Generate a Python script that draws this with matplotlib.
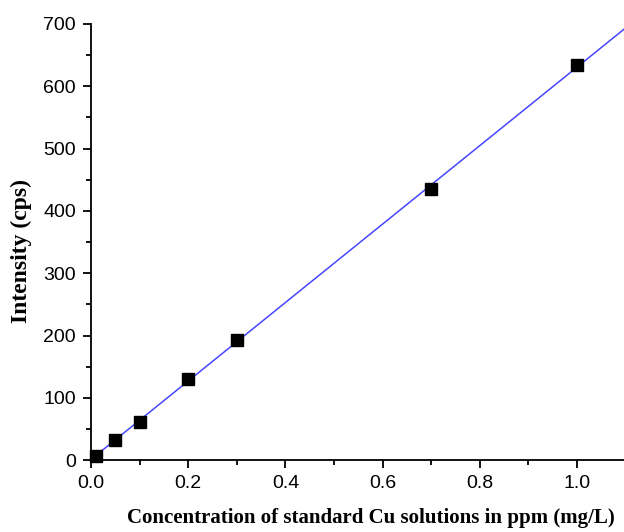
import matplotlib.pyplot as plt
import numpy as np

conc = [0.01, 0.05, 0.1, 0.2, 0.3, 0.7, 1.0]
intensity = [7, 33, 62, 130, 193, 435, 634]

fig = plt.figure(figsize=(6.24, 5.32), dpi=100)
ax = fig.add_axes([0.146, 0.135, 0.854, 0.820])

# linear fit through the standards
slope, icpt = np.polyfit(conc, intensity, 1)
xfit = np.array([0, 1.2])
ax.plot(xfit, slope * xfit + icpt, color='#4646ff', lw=1.1, zorder=2)

ax.plot(conc, intensity, 's', color='black', markersize=8, zorder=3, clip_on=False)

ax.set_xlim(0, 1.097)
ax.set_ylim(0, 700)
ax.set_xticks([0.0, 0.2, 0.4, 0.6, 0.8, 1.0])
ax.set_xticks(np.arange(0.1, 1.1, 0.2), minor=True)
ax.set_yticks(range(0, 701, 100))
ax.set_yticks(range(50, 701, 100), minor=True)

for s in ['top', 'right']:
    ax.spines[s].set_visible(False)
for s in ['left', 'bottom']:
    ax.spines[s].set_linewidth(1.3)

ax.tick_params(which='major', direction='out', length=6, width=1.3,
               labelsize=14, colors='black', pad=5)
ax.tick_params(which='minor', direction='out', length=3.5, width=1.3)
for lab in ax.get_xticklabels() + ax.get_yticklabels():
    lab.set_fontfamily('Liberation Sans')

fig.text(0.595, 0.016, 'Concentration of standard Cu solutions in ppm (mg/L)',
         ha='center', va='baseline', fontfamily='Liberation Serif',
         fontweight='bold', fontsize=15)
ax.set_ylabel('Intensity (cps)', fontfamily='Liberation Serif',
              fontweight='bold', fontsize=17)
ax.yaxis.set_label_coords(-0.11, 0.48)

plt.savefig('out.png', dpi=100)
plt.close()
